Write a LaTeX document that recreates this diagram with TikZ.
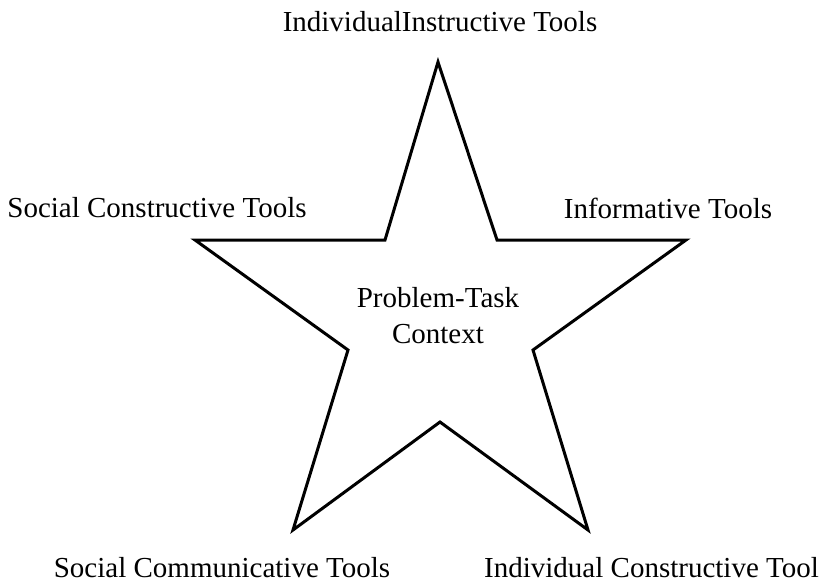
\documentclass[tikz,border=0pt]{standalone}
\usepackage{fontspec}
\setmainfont{Liberation Serif}
\usepackage{tikz}
\usetikzlibrary{positioning, calc}

\tikzset{
    toollabel/.style={font=\fontsize{29}{36}\selectfont, inner sep=0pt},
}

\begin{document}
\begin{tikzpicture}[x=1pt, y=-1pt]
    \useasboundingbox (0,0) rectangle (820,586);

    % Outer points of the star
    \coordinate (O0) at (438,62);
    \coordinate (O1) at (686,240);
    \coordinate (O2) at (588,530);
    \coordinate (O3) at (293,530);
    \coordinate (O4) at (195,240);

    % Inner points of the star
    \coordinate (I0) at (497,240);
    \coordinate (I1) at (533,350);
    \coordinate (I2) at (440,422);
    \coordinate (I3) at (348,350);
    \coordinate (I4) at (385,240);

    % Draw star
    \draw[line width=3pt, line join=miter] (O0) -- (I0) -- (O1) -- (I1) -- (O2) -- (I2) -- (O3) -- (I3) -- (O4) -- (I4) -- cycle;

    % Labels
    \node[toollabel] (instr) at (440,22) {IndividualInstructive Tools};
    \node[toollabel] (socconstr) at (157,208) {Social Constructive Tools};
    \node[toollabel] (inform) at (668,208) {Informative Tools};
    \node[toollabel] (soccomm) at (222,568) {Social Communicative Tools};
    \node[toollabel, anchor=west] (indconstr) at (484,568) {Individual Constructive Tool};
    \node[toollabel, align=center] (context) at (438,316) {Problem-Task\\Context};
\end{tikzpicture}
\end{document}
